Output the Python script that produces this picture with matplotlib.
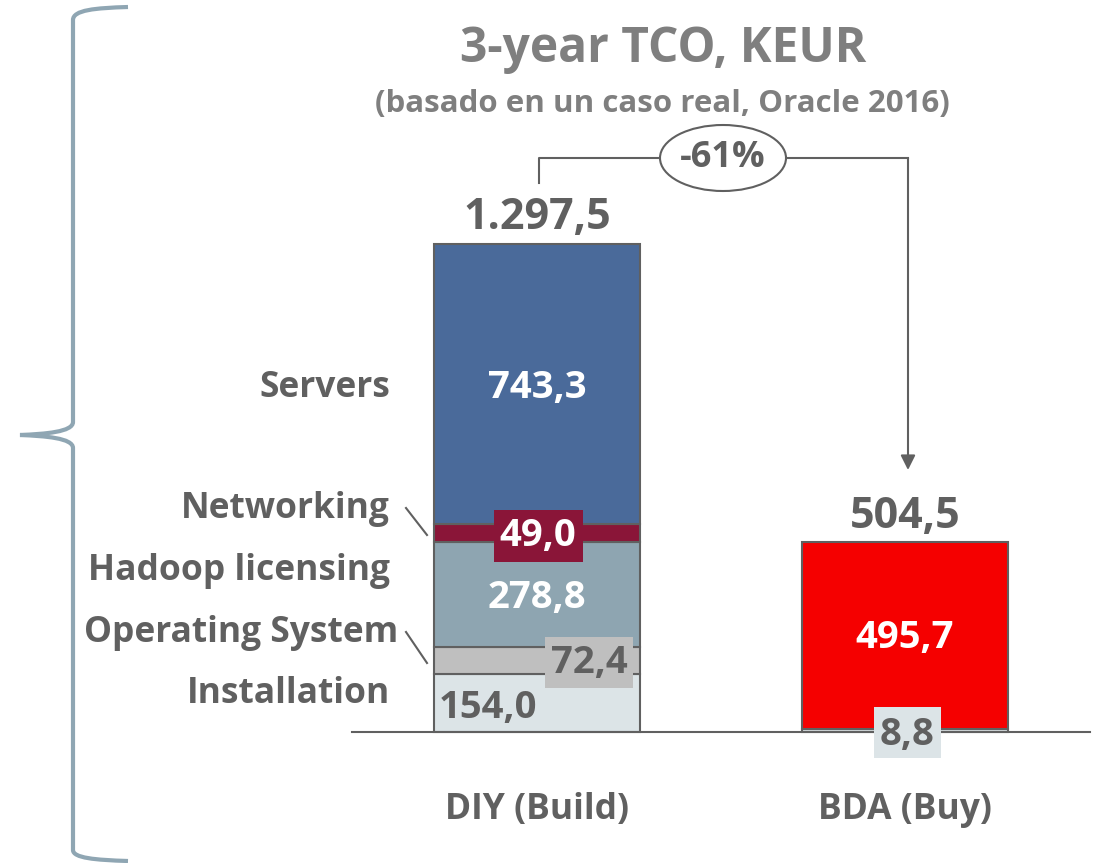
import matplotlib.pyplot as plt
from matplotlib.patches import Ellipse, PathPatch, Rectangle
from matplotlib.path import Path

categories = ['DIY (Build)', 'BDA (Buy)']
components = ['Installation', 'Operating System', 'Hadoop licensing', 'Networking', 'Servers']
diy_values = [154.0, 72.4, 278.8, 49.0, 743.3]
bda_values = [8.8, 495.7]
reduction = '-61%'

diy_colors = ['#DCE4E7', '#BFBFBF', '#8EA5B1', '#8A1538', '#4A6A9A']
bda_colors = ['#DCE4E7', '#F50000']
grey = '#606060'
light_grey = '#7F7F7F'

plt.rcParams['font.family'] = ['Open Sans', 'DejaVu Sans']
plt.rcParams['font.weight'] = 'bold'


def fmt(v):
    s = f"{v:,.1f}"
    return s.replace(',', 'X').replace('.', ',').replace('X', '.')


W, H = 1094, 863
fig = plt.figure(figsize=(10.94, 8.63), dpi=100)
ax = fig.add_axes([0, 0, 1, 1])
ppu = 488 / sum(diy_values)   # pixels per KEUR
x0, step = 537, 368
base = 732
ax.set_xlim((0 - x0) / step, (W - x0) / step)
ax.set_ylim(-(H - base) / ppu, base / ppu)
ax.axis('off')


def X(px):
    return (px - x0) / step


def Y(py):
    return (base - py) / ppu


bw = 206 / step

# stacked bars
bottom = 0
for v, c in zip(diy_values, diy_colors):
    ax.bar(0, v, bw, bottom=bottom, color=c, edgecolor=grey, linewidth=1.5, zorder=2)
    bottom += v
bottom = 0
for v, c in zip(bda_values, bda_colors):
    ax.bar(1, v, bw, bottom=bottom, color=c, edgecolor=grey, linewidth=1.5, zorder=2)
    bottom += v

ax.plot([X(352), X(1090)], [0, 0], color=grey, lw=1.5, zorder=3)


def label_box(cx, cy, w, h, color):
    # background box behind a value label, sizes in pixels
    ax.add_patch(Rectangle((X(cx - w / 2), Y(cy + h / 2)), w / step, h / ppu,
                           fc=color, ec='none', zorder=4))


# values inside the bars
big = dict(fontsize=27.5, fontweight='bold', ha='center', va='center', zorder=5)
ax.text(0, Y(388), fmt(diy_values[4]), color='white', **big)
label_box(538.5, 536, 89, 52, diy_colors[3])
ax.text(X(538), Y(536), fmt(diy_values[3]), color='white', **big)
ax.text(0, Y(598), fmt(diy_values[2]), color='white', **big)
label_box(589, 662.5, 88, 51, diy_colors[1])
ax.text(X(589), Y(663), fmt(diy_values[1]), color=grey, **big)
ax.text(X(439), Y(708), fmt(diy_values[0]), color=grey, **{**big, 'ha': 'left'})
ax.text(1, Y(638), fmt(bda_values[1]), color='white', **big)
label_box(907.5, 732.5, 67, 51, bda_colors[0])
ax.text(X(907), Y(735), fmt(bda_values[0]), color=grey, **big)

# totals
ax.text(0, sum(diy_values) + 12, fmt(sum(diy_values)), color=grey, fontsize=31,
        ha='center', va='bottom', fontweight='bold')
ax.text(1, sum(bda_values) + 12, fmt(sum(bda_values)), color=grey, fontsize=31,
        ha='center', va='bottom', fontweight='bold')

# category labels
for i, c in enumerate(categories):
    ax.text(i, Y(810), c, color=grey, fontsize=25.5, ha='center', va='center', fontweight='bold')

# component labels on the left
label_y = [694, 633, 571, 509, 388]
label_x = [390, 398, 390, 390, 390]
for name, py, px in zip(components, label_y, label_x):
    ax.text(X(px), Y(py), name, color=grey, fontsize=25.5, ha='right', va='center',
            fontweight='bold')
ax.plot([X(406), X(427)], [Y(508), Y(535)], color=grey, lw=1.5)
ax.plot([X(406), X(427)], [Y(632), Y(663)], color=grey, lw=1.5)

# reduction arrow
ax.plot([X(539), X(539), X(908)], [Y(183), Y(158), Y(158)], color=grey, lw=1.5, zorder=3)
ax.annotate('', xy=(X(908), Y(470)), xytext=(X(908), Y(158)),
            arrowprops=dict(arrowstyle='-|>', color=grey, lw=1.5, mutation_scale=22,
                            shrinkA=0, shrinkB=0), zorder=3)
ax.add_patch(Ellipse((X(723), Y(158)), 126 / step, 66 / ppu, fc='white', ec=grey,
                     lw=1.5, zorder=4))
ax.text(X(723), Y(158), reduction, color=grey, fontsize=26, ha='center', va='center',
        fontweight='bold', zorder=5)

# titles
fig.text(663 / W, 1 - 50 / H, '3-year TCO, KEUR', color=light_grey, fontsize=34.5,
         ha='center', va='center', fontweight='bold')
fig.text(662 / W, 1 - 104 / H, '(basado en un caso real, Oracle 2016)', color=light_grey,
         fontsize=22.5, ha='center', va='center', fontweight='bold')

# curly brace on the left
pts = [(128, 7), (95, 8), (73, 10), (73, 20), (73, 422), (73, 432), (45, 434), (20, 435),
       (45, 436), (73, 438), (73, 448), (73, 850), (73, 858), (95, 860), (128, 861)]
codes = [Path.MOVETO, Path.CURVE4, Path.CURVE4, Path.CURVE4, Path.LINETO,
         Path.CURVE4, Path.CURVE4, Path.CURVE4, Path.CURVE4, Path.CURVE4, Path.CURVE4,
         Path.LINETO, Path.CURVE4, Path.CURVE4, Path.CURVE4]
brace = Path([(px / W, 1 - py / H) for px, py in pts], codes)
fig.add_artist(PathPatch(brace, fc='none', ec='#8FA6B3', lw=3, transform=fig.transFigure))

fig.savefig('out.png', dpi=100)
